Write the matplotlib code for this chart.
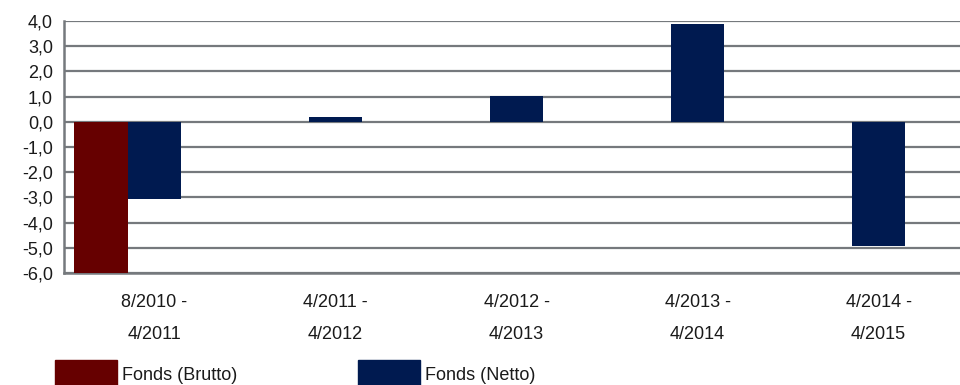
import numpy as np
import matplotlib.pyplot as plt
from matplotlib.patches import Rectangle

plt.rcParams['font.family'] = ['Liberation Sans', 'DejaVu Sans']

# Wertentwicklung je Zeitraum in %
perioden = ['8/2010 -\n4/2011', '4/2011 -\n4/2012', '4/2012 -\n4/2013',
            '4/2013 -\n4/2014', '4/2014 -\n4/2015']
brutto = [-6.3, np.nan, np.nan, np.nan, np.nan]
netto = [-3.05, 0.2, 1.03, 3.88, -4.94]
namen = ['Fonds (Brutto)', 'Fonds (Netto)']
farben = ['#660000', '#001a50']

fig = plt.figure(figsize=(9.6, 3.85), dpi=100)
ax = fig.add_axes([64 / 960, 1 - 273 / 385, 905 / 960, 252 / 385])

x = np.arange(len(perioden))
w = 0.298
ax.bar(x - w, brutto, w, color=farben[0], zorder=3)
ax.bar(x, netto, w, color=farben[1], zorder=3)

ax.set_xlim(-0.5, len(perioden) - 0.5)
ax.set_ylim(-6, 4)
ax.set_yticks(np.arange(-6, 5, 1))
ax.set_yticklabels([f'{v:.1f}'.replace('.', ',') for v in np.arange(-6, 5, 1)])
ax.set_xticks(x)
ax.set_xticklabels(perioden, linespacing=2.15)

grau = '#75797d'
ax.yaxis.grid(True, color=grau, linewidth=1.6, zorder=1)
for s in ['top', 'right']:
    ax.spines[s].set_visible(False)
for s in ['left', 'bottom']:
    ax.spines[s].set_color(grau)
    ax.spines[s].set_linewidth(1.8)
ax.tick_params(axis='both', length=0, labelsize=13, colors='#1a1a1a')
ax.tick_params(axis='y', pad=8)
ax.tick_params(axis='x', pad=15)

# Legende unten
for i, (name, farbe) in enumerate(zip(namen, farben)):
    x0 = [55, 358][i] / 960
    fig.add_artist(Rectangle((x0, 0), 62 / 960, 25 / 385, color=farbe,
                             transform=fig.transFigure))
    fig.text(x0 + 67 / 960, 9 / 385, name, fontsize=13, va='center',
             color='#1a1a1a')

fig.savefig('out.png', dpi=100)
